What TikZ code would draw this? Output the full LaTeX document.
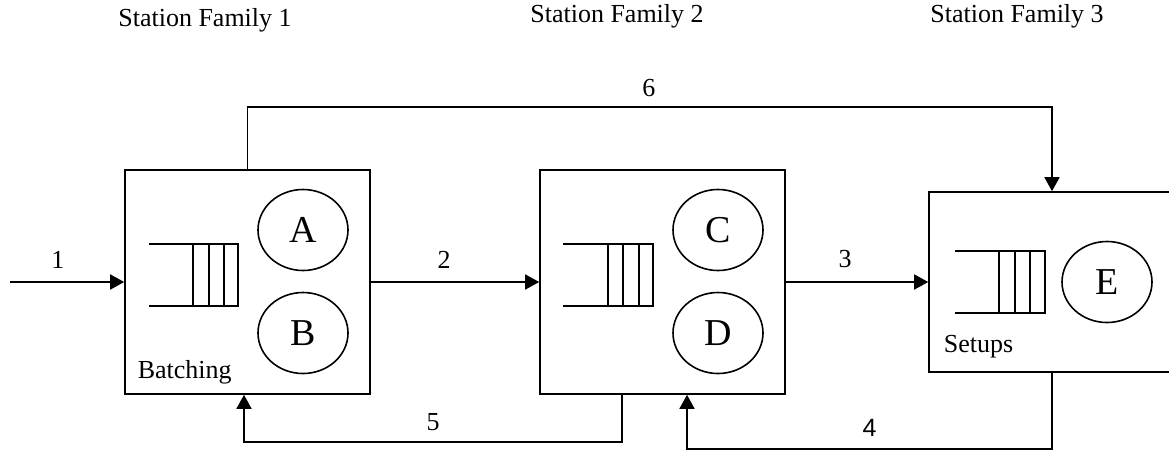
\documentclass[tikz,border=0pt]{standalone}
\usepackage{fontspec}
\setmainfont{Liberation Serif}
\newfontfamily\arialfont{Liberation Sans}
\usetikzlibrary{arrows.meta,shapes.geometric}
\begin{document}
\begin{tikzpicture}[x=1pt,y=-1pt,
  line width=1.6pt,
  stationbox/.style={draw,rectangle,minimum height=224pt,minimum width=245pt,inner sep=0pt},
  server/.style={draw,ellipse,minimum width=90pt,minimum height=81pt,inner sep=0pt,font=\fontsize{38}{40}\selectfont},
  lbl/.style={inner sep=0pt,font=\fontsize{26}{28}\selectfont},
  flow/.style={-{Triangle[length=14pt,width=15pt]}},
  queueline/.style={line width=1.6pt}]
\clip (0,0) rectangle (1169,461);
\fill[white] (0,0) rectangle (1169,461);

% station titles
\node[lbl,anchor=base] (t1) at (205,26) {Station Family 1};
\node[lbl,anchor=base] (t2) at (617,22) {Station Family 2};
\node[lbl,anchor=base] (t3) at (1017,22) {Station Family 3};

% boxes
\node[stationbox] (b1) at (247.5,282) {};
\node[stationbox] (b2) at (662.5,282) {};
\node[stationbox,minimum height=180pt,minimum width=261pt] (b3) at (1059.5,282) {};

% servers
\node[server] (A) at (303,230) {A};
\node[server] (B) at (303,333) {B};
\node[server] (C) at (718,230) {C};
\node[server] (D) at (718,333) {D};
\node[server] (E) at (1107,282) {E};

% queues
\draw[queueline] (149,244) -- (238,244) -- (238,306) -- (149,306);
\draw[queueline] (193,244) -- (193,306) (209,244) -- (209,306) (224,244) -- (224,306);
\draw[queueline] (563,244) -- (653,244) -- (653,306) -- (563,306);
\draw[queueline] (608,244) -- (608,306) (623,244) -- (623,306) (639,244) -- (639,306);
\draw[queueline] (955,251) -- (1045,251) -- (1045,313) -- (955,313);
\draw[queueline] (999,251) -- (999,313) (1015,251) -- (1015,313) (1030,251) -- (1030,313);

% box labels
\node[lbl,anchor=base west] (bat) at (137,378) {Batching};
\node[lbl,anchor=base west] (set) at (943,352) {Setups};

% connectors
\coordinate (src) at (10,282);
\draw[flow] (src) -- (b1.west) node[lbl,pos=0.42,above=13pt] (l1) {1};
\draw[flow] (b1.east) -- (b2.west) node[lbl,midway,above=13pt,xshift=-11pt] (l2) {2};
\draw[flow] (b2.east) -- (b3.west) node[lbl,midway,above=13pt,xshift=-12pt] (l3) {3};
\draw[flow] (b1.north) -- ++(0,-62) -| ([xshift=-7.5pt]b3.north) node[lbl,pos=0.25,above=10pt,xshift=-1pt] (l6) {6};
\draw[flow] ([xshift=-40.5pt]b2.south) -- ++(0,47) -| ([xshift=-3.5pt]b1.south) node[lbl,pos=0.25,above=10pt] (l5) {5};
\draw[flow] ([xshift=-7.5pt]b3.south) -- ++(0,76) -| ([xshift=24.5pt]b2.south) node[pos=0.25,above=12pt,inner sep=0pt,font=\arialfont\fontsize{25}{27}\selectfont] (l4) {4};
\end{tikzpicture}
\end{document}
